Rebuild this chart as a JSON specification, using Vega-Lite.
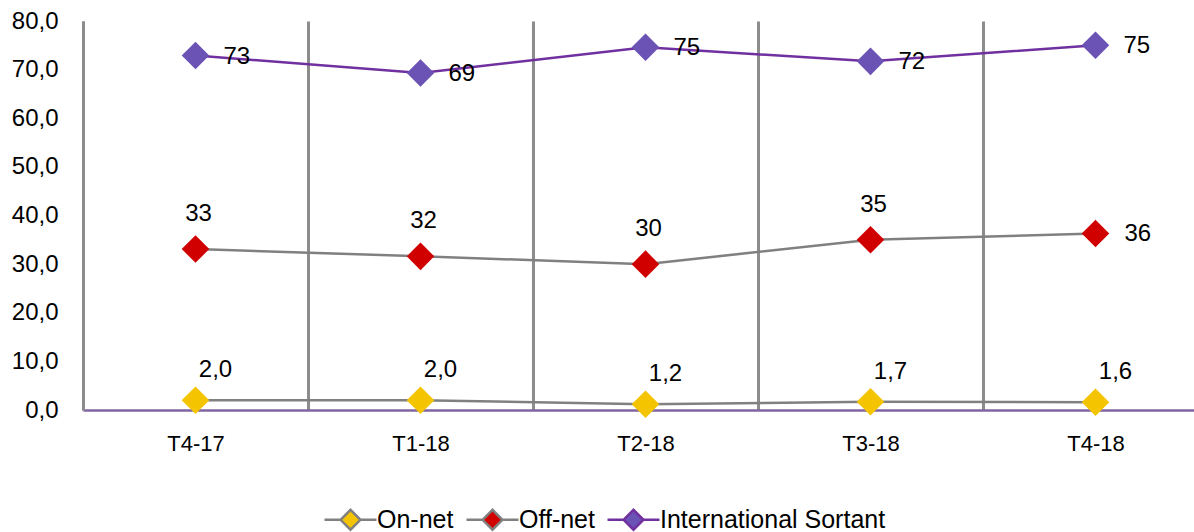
{
  "$schema": "https://vega.github.io/schema/vega-lite/v6.json",
  "width": 1111,
  "height": 389,
  "autosize": {"type": "none"},
  "padding": {"left": 83, "top": 21, "right": 0, "bottom": 122},
  "background": "white",
  "config": {
    "locale": {"number": {"decimal": ",", "thousands": " ", "grouping": [3], "currency": ["", ""]}},
    "view": {"stroke": null},
    "font": "Liberation Sans",
    "legend": {
      "symbolType": "M-3,0H-1.1M1.1,0H3M-1.15,0L0,-1.15L1.15,0L0,1.15Z",
      "symbolSize": 300,
      "symbolStrokeWidth": 2.5,
      "symbolOpacity": 1,
      "labelFont": "Liberation Sans",
      "labelFontSize": 25,
      "labelColor": "#000000",
      "labelLimit": 0,
      "labelOffset": 14,
      "columnPadding": 7,
      "padding": 0
    }
  },
  "data": {
    "values": [
      {"quarter": "T4-17", "series": "On-net", "value": 2.0},
      {"quarter": "T1-18", "series": "On-net", "value": 2.0},
      {"quarter": "T2-18", "series": "On-net", "value": 1.2},
      {"quarter": "T3-18", "series": "On-net", "value": 1.7},
      {"quarter": "T4-18", "series": "On-net", "value": 1.6},
      {"quarter": "T4-17", "series": "Off-net", "value": 33.1},
      {"quarter": "T1-18", "series": "Off-net", "value": 31.6},
      {"quarter": "T2-18", "series": "Off-net", "value": 30.0},
      {"quarter": "T3-18", "series": "Off-net", "value": 35.0},
      {"quarter": "T4-18", "series": "Off-net", "value": 36.3},
      {"quarter": "T4-17", "series": "International Sortant", "value": 72.9},
      {"quarter": "T1-18", "series": "International Sortant", "value": 69.3},
      {"quarter": "T2-18", "series": "International Sortant", "value": 74.6},
      {"quarter": "T3-18", "series": "International Sortant", "value": 71.7},
      {"quarter": "T4-18", "series": "International Sortant", "value": 75.0}
    ]
  },
  "encoding": {
    "x": {
      "field": "quarter",
      "type": "nominal",
      "sort": ["T4-17", "T1-18", "T2-18", "T3-18", "T4-18"],
      "scale": {"type": "band", "range": [0, 1125], "paddingInner": 0, "paddingOuter": 0},
      "axis": {
        "title": null,
        "orient": "bottom",
        "grid": true,
        "tickBand": "extent",
        "gridColor": "#8c8c8c",
        "gridWidth": 3,
        "gridOpacity": 1,
        "ticks": false,
        "tickSize": 0,
        "domainColor": "#8064a2",
        "domainWidth": 2.5,
        "labelFont": "Liberation Sans",
        "labelFontSize": 22,
        "labelColor": "#000000",
        "labelPadding": 23,
        "labelAngle": 0
      }
    },
    "y": {
      "field": "value",
      "type": "quantitative",
      "scale": {"domain": [0, 80], "nice": false},
      "axis": {
        "title": null,
        "values": [0, 10, 20, 30, 40, 50, 60, 70, 80],
        "format": ".1f",
        "grid": false,
        "ticks": false,
        "tickSize": 0,
        "domain": true,
        "domainColor": "#8c8c8c",
        "domainWidth": 3,
        "labelFont": "Liberation Sans",
        "labelFontSize": 24,
        "labelColor": "#000000",
        "labelPadding": 25
      }
    }
  },
  "layer": [
    {
      "mark": {"type": "line", "strokeWidth": 2.5},
      "encoding": {
        "stroke": {
          "field": "series",
          "type": "nominal",
          "scale": {"domain": ["On-net", "Off-net", "International Sortant"], "range": ["#808080", "#808080", "#7030a0"]},
          "legend": {"title": null, "orient": "none", "direction": "horizontal", "legendX": 255, "legendY": 486}
        }
      }
    },
    {
      "mark": {"type": "point", "shape": "diamond", "filled": true, "size": 760, "opacity": 1},
      "encoding": {
        "fill": {
          "field": "series",
          "type": "nominal",
          "scale": {"domain": ["On-net", "Off-net", "International Sortant"], "range": ["#f5c400", "#d10000", "#6b52b5"]},
          "legend": {"title": null, "orient": "none", "direction": "horizontal", "legendX": 255, "legendY": 486}
        }
      }
    },
    {
      "transform": [{"filter": "datum.series === 'International Sortant'"}],
      "mark": {"type": "text", "align": "left", "baseline": "middle", "dx": 28, "dy": 1, "fontSize": 24, "color": "#000000"},
      "encoding": {"text": {"field": "value", "type": "quantitative", "format": ".0f"}}
    },
    {
      "transform": [{"filter": "datum.series === 'Off-net' && datum.quarter !== 'T4-18'"}],
      "mark": {"type": "text", "align": "center", "baseline": "middle", "dx": 3, "dy": -35, "fontSize": 24, "color": "#000000"},
      "encoding": {"text": {"field": "value", "type": "quantitative", "format": ".0f"}}
    },
    {
      "transform": [{"filter": "datum.series === 'Off-net' && datum.quarter === 'T4-18'"}],
      "mark": {"type": "text", "align": "left", "baseline": "middle", "dx": 29, "dy": 1, "fontSize": 24, "color": "#000000"},
      "encoding": {"text": {"field": "value", "type": "quantitative", "format": ".0f"}}
    },
    {
      "transform": [{"filter": "datum.series === 'On-net'"}],
      "mark": {"type": "text", "align": "center", "baseline": "middle", "dx": 20, "dy": -30, "fontSize": 24, "color": "#000000"},
      "encoding": {"text": {"field": "value", "type": "quantitative", "format": ".1f"}}
    }
  ]
}
